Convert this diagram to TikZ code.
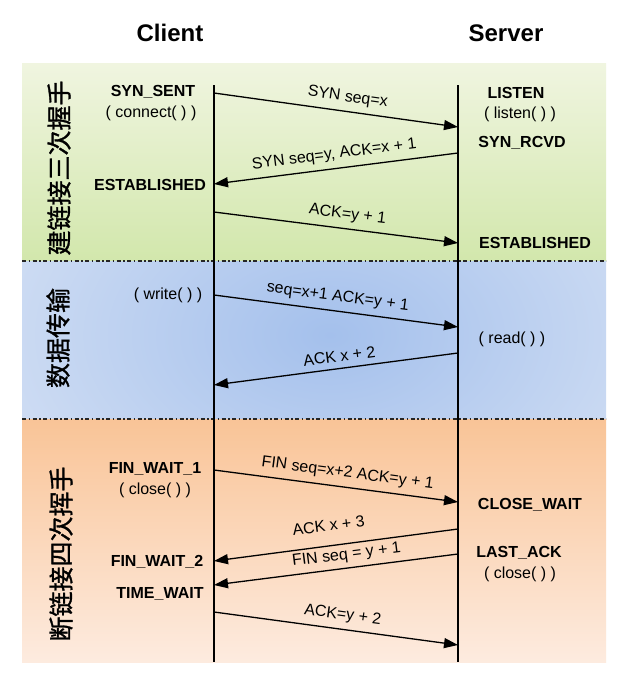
\documentclass[tikz,border=0pt]{standalone}
\usepackage{fontspec}
\setmainfont{Liberation Sans}
\newfontfamily\cjk{Noto Sans CJK SC}[FakeBold=1.2]
\usetikzlibrary{arrows.meta}
\definecolor{greenTop}{HTML}{F0F5E0}
\definecolor{greenBot}{HTML}{D2E7AC}
\definecolor{blueIn}{HTML}{A4C0EC}
\definecolor{blueOut}{HTML}{DEE7F6}
\definecolor{orangeTop}{HTML}{F9C497}
\definecolor{orangeBot}{HTML}{FDEBDF}
\begin{document}
\begin{tikzpicture}[x=1pt,y=-1pt,
  state/.style={font=\fontsize{16}{18}\selectfont\bfseries, inner sep=0pt},
  call/.style={font=\fontsize{16}{18}\selectfont, inner sep=0pt},
  msg/.style={line width=1.3pt, -{Triangle[length=14pt,width=10pt]}},
  msglabel/.style={font=\fontsize{16}{18}\selectfont, sloped, above=5pt, inner sep=1pt},
  life/.style={line width=1.5pt},
  sepline/.style={line width=1.3pt, draw=black!85, dash pattern=on 4pt off 2.5pt on 1.5pt off 2.5pt},
  phase/.style={font=\cjk\fontsize{25}{25}\selectfont, rotate=90, inner sep=0pt},
  head/.style={font=\fontsize{24}{26}\selectfont\bfseries, inner sep=0pt}]
\path[use as bounding box, fill=white] (0,0) rectangle (640,686);
% bands
\shade[top color=greenTop, bottom color=greenBot] (22,63) rectangle (606,261);
\fill[blueOut] (22,261) rectangle (606,419);
\begin{scope}
  \clip (22,261) rectangle (606,419);
  \shade[inner color=blueIn, outer color=blueOut] (330,335) ellipse [x radius=470, y radius=300];
\end{scope}
\shade[top color=orangeTop, bottom color=orangeBot] (22,419) rectangle (606,662);
% separators
\coordinate (sepAL) at (22,261); \coordinate (sepAR) at (606,261);
\coordinate (sepBL) at (22,419); \coordinate (sepBR) at (606,419);
\draw[sepline] (sepAL) -- (sepAR);
\draw[sepline] (sepBL) -- (sepBR);
% headers
\node[head] (client) at (170,33) {Client};
\node[head] (server) at (506,33) {Server};
% lifelines
\coordinate (ctop) at (214,85); \coordinate (cbot) at (214,662);
\coordinate (srvtop) at (458,85); \coordinate (srvbot) at (458,662);
\draw[life] (ctop) -- (cbot);
\draw[life] (srvtop) -- (srvbot);
% phase labels
\node[phase] (p1) at (59,168) {建链接三次握手};
\node[phase] (p2) at (58,338) {数据传输};
\node[phase] (p3) at (61,554) {断链接四次挥手};
% client states
\node[state] (synsent) at (153,92) {SYN\_SENT};
\node[call] (connect) at (151,113) {( connect( ) )};
\node[state] (cest) at (150,185) {ESTABLISHED};
\node[call] (write) at (168,295) {( write( ) )};
\node[state] (fw1) at (155,469) {FIN\_WAIT\_1};
\node[call] (cclose) at (155,490) {( close( ) )};
\node[state] (fw2) at (157,562) {FIN\_WAIT\_2};
\node[state] (tw) at (160,594) {TIME\_WAIT};
% server states
\node[state] (listen) at (516,93) {LISTEN};
\node[call] (listencall) at (520,114) {( listen( ) )};
\node[state] (synrcvd) at (522,143) {SYN\_RCVD};
\node[state] (sest) at (535,243) {ESTABLISHED};
\node[call] (read) at (512,339) {( read( ) )};
\node[state] (cw) at (530,505) {CLOSE\_WAIT};
\node[state] (la) at (519,553) {LAST\_ACK};
\node[call] (sclose) at (520,574) {( close( ) )};
% message endpoints
\coordinate (c1) at (214,93);  \coordinate (s1) at (458,127);
\coordinate (s2) at (458,153); \coordinate (c2) at (214,184);
\coordinate (c3) at (214,212); \coordinate (s3) at (458,243);
\coordinate (c4) at (214,295); \coordinate (s4) at (458,327);
\coordinate (s5) at (458,353); \coordinate (c5) at (214,385);
\coordinate (c6) at (214,470); \coordinate (s6) at (458,502);
\coordinate (s7) at (458,529); \coordinate (c7) at (214,561);
\coordinate (s8) at (458,554); \coordinate (c8) at (214,585);
\coordinate (c9) at (214,612); \coordinate (s9) at (458,645);
% messages
\draw[msg] (c1) -- node[msglabel, pos=.54] {SYN seq=x} (s1);
\draw[msg] (s2) -- node[msglabel, pos=.5] {SYN seq=y, ACK=x + 1} (c2);
\draw[msg] (c3) -- node[msglabel, pos=.54] {ACK=y + 1} (s3);
\draw[msg] (c4) -- node[msglabel, pos=.5] {seq=x+1 ACK=y + 1} (s4);
\draw[msg] (s5) -- node[msglabel, pos=.48] {ACK x + 2} (c5);
\draw[msg] (c6) -- node[msglabel, pos=.54] {FIN seq=x+2 ACK=y + 1} (s6);
\draw[msg] (s7) -- node[msglabel, pos=.52, above=8pt] {ACK x + 3} (c7);
\draw[msg] (s8) -- node[msglabel, pos=.45, above=0pt, inner sep=0pt] {FIN seq = y + 1} (c8);
\draw[msg] (c9) -- node[msglabel, pos=.52] {ACK=y + 2} (s9);
\end{tikzpicture}
\end{document}
